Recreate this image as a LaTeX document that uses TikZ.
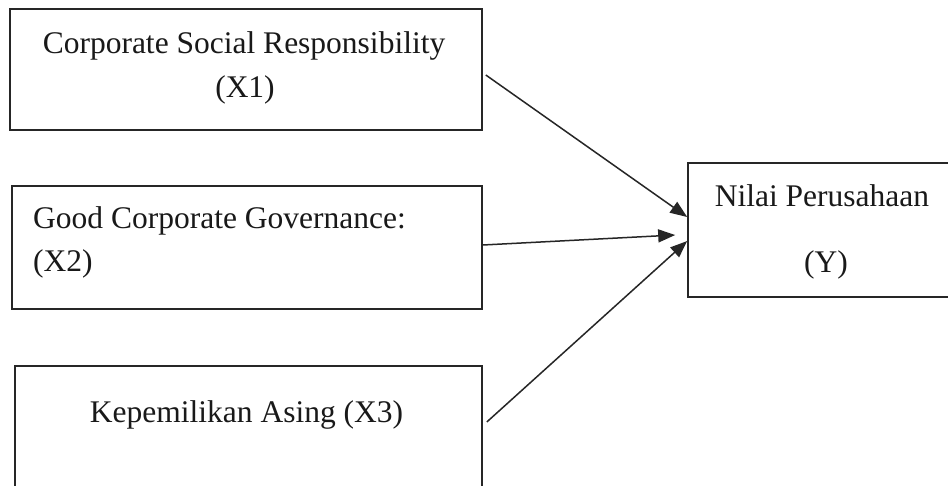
\documentclass[tikz,border=0pt]{standalone}
\usepackage{fontspec}
\setmainfont{Liberation Serif}
\usetikzlibrary{arrows.meta}
\tikzset{
  box/.style={draw=black!85, line width=1.6pt, inner sep=0pt},
  lbl/.style={inner sep=0pt, anchor=base, font=\fontsize{31.5}{36}\selectfont, text=black!90},
  arr/.style={line width=1.5pt, draw=black!85, -{Triangle[length=17pt,width=13pt]}}
}
\begin{document}
\begin{tikzpicture}[x=1pt,y=-1pt]
\useasboundingbox (0,0) rectangle (948,485);
\fill[white] (0,0) rectangle (948,485);
% boxes
\node[box, minimum width=472pt, minimum height=121pt] (b1) at (246,69.5) {};
\node[box, minimum width=470pt, minimum height=123pt] (b2) at (247,247.5) {};
\node[box, minimum width=467pt, minimum height=124pt] (b3) at (248.5,428) {};
\node[box, minimum width=270pt, minimum height=134pt] (by) at (823,230) {};
% texts
\node[lbl] (t1a) at (244,53) {Corporate Social Responsibility};
\node[lbl] (t1b) at (245,97) {(X1)};
\node[lbl, anchor=base west] (t2a) at (33,228) {Good Corporate Governance:};
\node[lbl, anchor=base west] (t2b) at (33,271) {(X2)};
\node[lbl] (t3) at (246.5,422) {Kepemilikan Asing (X3)};
\node[lbl] (tya) at (822,206) {Nilai Perusahaan};
\node[lbl] (tyb) at (826,272) {(Y)};
% arrows
\draw[arr] ([xshift=3pt,yshift=-5.5pt]b1.east) -- ([yshift=13pt]by.west);
\draw[arr] ([yshift=2.5pt]b2.east) -- ([xshift=-12pt,yshift=-5pt]by.west);
\draw[arr] ([xshift=4pt,yshift=6pt]b3.east) -- ([yshift=-11pt]by.west);
\end{tikzpicture}
\end{document}
